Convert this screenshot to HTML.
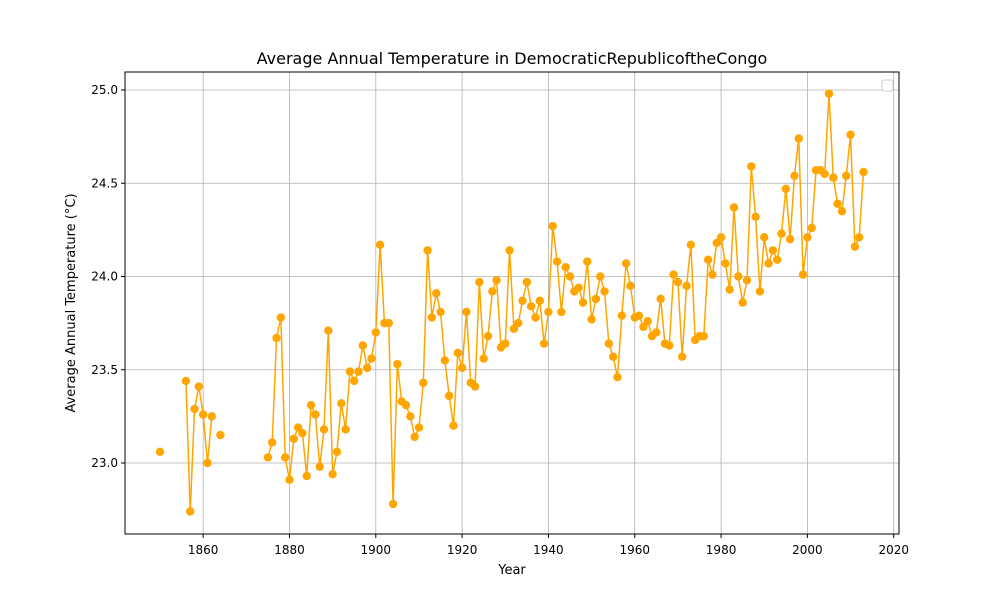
<!DOCTYPE html>
<html><head><meta charset="utf-8"><style>
body{margin:0;background:#fff;font-family:"Liberation Sans","DejaVu Sans",sans-serif}
svg text{font-family:"DejaVu Sans","Liberation Sans",sans-serif}
</style></head><body>
<svg id="chart" width="1000" height="600" xmlns="http://www.w3.org/2000/svg">
<rect width="1000" height="600" fill="#fff"/>
<text x="512" y="64" text-anchor="middle" font-size="16">Average Annual Temperature in DemocraticRepublicoftheCongo</text>
<text x="512" y="574" text-anchor="middle" font-size="13">Year</text>
<text transform="translate(75,303) rotate(-90)" text-anchor="middle" font-size="13">Average Annual Temperature (°C)</text>
<g id="grid"></g><g id="axes"></g><g id="series"></g>
<rect x="125" y="72" width="774" height="462" fill="none" stroke="#000" stroke-width="1"/>
<rect x="882" y="80" width="11" height="11" rx="2" fill="#fff" stroke="#ccc"/>
</svg>
<script>
const years=[1850,1856,1857,1858,1859,1860,1861,1862,1864,1875,1876,1877,1878,1879,1880,1881,1882,1883,1884,1885,1886,1887,1888,1889,1890,1891,1892,1893,1894,1895,1896,1897,1898,1899,1900,1901,1902,1903,1904,1905,1906,1907,1908,1909,1910,1911,1912,1913,1914,1915,1916,1917,1918,1919,1920,1921,1922,1923,1924,1925,1926,1927,1928,1929,1930,1931,1932,1933,1934,1935,1936,1937,1938,1939,1940,1941,1942,1943,1944,1945,1946,1947,1948,1949,1950,1951,1952,1953,1954,1955,1956,1957,1958,1959,1960,1961,1962,1963,1964,1965,1966,1967,1968,1969,1970,1971,1972,1973,1974,1975,1976,1977,1978,1979,1980,1981,1982,1983,1984,1985,1986,1987,1988,1989,1990,1991,1992,1993,1994,1995,1996,1997,1998,1999,2000,2001,2002,2003,2004,2005,2006,2007,2008,2009,2010,2011,2012,2013];
const temps=[23.06,23.44,22.74,23.29,23.41,23.26,23.00,23.25,23.15,23.03,23.11,23.67,23.78,23.03,22.91,23.13,23.19,23.16,22.93,23.31,23.26,22.98,23.18,23.71,22.94,23.06,23.32,23.18,23.49,23.44,23.49,23.63,23.51,23.56,23.70,24.17,23.75,23.75,22.78,23.53,23.33,23.31,23.25,23.14,23.19,23.43,24.14,23.78,23.91,23.81,23.55,23.36,23.20,23.59,23.51,23.81,23.43,23.41,23.97,23.56,23.68,23.92,23.98,23.62,23.64,24.14,23.72,23.75,23.87,23.97,23.84,23.78,23.87,23.64,23.81,24.27,24.08,23.81,24.05,24.00,23.92,23.94,23.86,24.08,23.77,23.88,24.00,23.92,23.64,23.57,23.46,23.79,24.07,23.95,23.78,23.79,23.73,23.76,23.68,23.70,23.88,23.64,23.63,24.01,23.97,23.57,23.95,24.17,23.66,23.68,23.68,24.09,24.01,24.18,24.21,24.07,23.93,24.37,24.00,23.86,23.98,24.59,24.32,23.92,24.21,24.07,24.14,24.09,24.23,24.47,24.20,24.54,24.74,24.01,24.21,24.26,24.57,24.57,24.55,24.98,24.53,24.39,24.35,24.54,24.76,24.16,24.21,24.56];
const xTicks=[1860,1880,1900,1920,1940,1960,1980,2000,2020];
const yTicks=[23.0,23.5,24.0,24.5,25.0];
const NS="http://www.w3.org/2000/svg";
const xs=y=>160+(y-1850)*4.316;
const ys=v=>90+(25-v)*186.5;
function mk(t,a,p){const e=document.createElementNS(NS,t);for(const k in a)e.setAttribute(k,a[k]);p.appendChild(e);return e;}
const grid=document.getElementById('grid'),axes=document.getElementById('axes'),ser=document.getElementById('series');
xTicks.forEach(t=>{const x=xs(t);
 const g=mk('line',{x1:x,x2:x,y1:72,y2:534,stroke:'#b0b0b0','stroke-width':0.8},grid);
 
 mk('line',{x1:x,x2:x,y1:534,y2:538,stroke:'#000'},axes);
 const tx=mk('text',{x:x,y:554,'text-anchor':'middle','font-size':12},axes);tx.textContent=t;
 });
yTicks.forEach(t=>{const y=ys(t);
 const g=mk('line',{x1:125,x2:899,y1:y,y2:y,stroke:'#b0b0b0','stroke-width':0.8},grid);
 
 mk('line',{x1:121,x2:125,y1:y,y2:y,stroke:'#000'},axes);
 const tx=mk('text',{x:118,y:y+4,'text-anchor':'end','font-size':12},axes);tx.textContent=t.toFixed(1);
 });
let segs=[],cur=[];
years.forEach((yr,i)=>{if(i>0&&yr-years[i-1]>1){segs.push(cur);cur=[];}cur.push([xs(yr),ys(temps[i])]);});
segs.push(cur);
segs.forEach(s=>{if(s.length>1){const p=mk('polyline',{points:s.map(q=>q.join(',')).join(' '),fill:'none',stroke:'#ffa500','stroke-width':1.5},ser);
 }});
years.forEach((yr,i)=>{const c=mk('circle',{cx:xs(yr),cy:ys(temps[i]),r:4.2,fill:'#ffa500'},ser);
 });
</script>
</body></html>
